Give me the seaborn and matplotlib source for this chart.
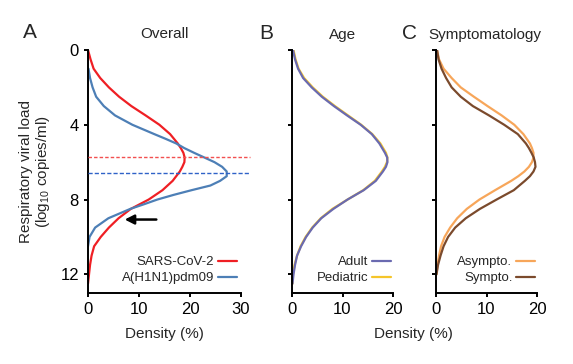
import numpy as np
import pandas as pd
import matplotlib
matplotlib.use("Agg")
import matplotlib.pyplot as plt
import seaborn as sns

# ---------------- data ----------------
sars_load = [0.0, 0.5, 1.0, 1.5, 2.0, 2.5, 3.0, 3.5, 4.0, 4.5, 5.0, 5.25, 5.5, 5.75, 6.0,
             6.25, 6.5, 7.0, 7.5, 8.0, 8.5, 9.0, 9.5, 10.0, 10.5, 11.0, 11.5, 12.0, 12.5]
sars_density = [0.0, 0.5, 1.1, 2.4, 4.1, 6.1, 8.5, 11.3, 14.0, 16.1, 17.6, 18.2, 18.7, 18.95, 18.9,
                18.5, 18.0, 16.6, 14.6, 11.9, 8.4, 6.0, 4.1, 2.5, 1.2, 0.7, 0.4, 0.2, 0.0]

h1n1_load = [1.0, 1.5, 2.0, 2.5, 3.0, 3.5, 4.0, 4.5, 4.75, 5.0, 5.25, 5.5, 5.75, 6.0,
             6.25, 6.5, 6.75, 7.0, 7.25, 7.5, 7.75, 8.0, 8.25, 8.5, 9.0, 9.5, 10.0, 10.5]
h1n1_density = [0.1, 0.4, 0.9, 1.6, 3.1, 5.3, 8.7, 13.0, 15.2, 17.3, 18.9, 20.8, 22.8, 24.8,
                26.3, 27.2, 27.2, 25.9, 24.0, 20.3, 16.8, 13.6, 11.0, 8.3, 4.0, 1.4, 0.3, 0.0]

age_load = [0.0, 0.5, 1.0, 1.5, 2.0, 2.5, 3.0, 3.5, 4.0, 4.5, 5.0, 5.5, 5.75, 6.0,
            6.25, 6.5, 7.0, 7.5, 8.0, 8.5, 9.0, 9.5, 10.0, 10.5, 11.0, 11.5, 12.0, 12.5]
adult_density = [0.2, 0.6, 1.2, 2.2, 3.9, 5.9, 8.3, 10.9, 13.6, 15.8, 17.3, 18.4, 18.85, 18.9,
                 18.6, 18.0, 16.6, 14.2, 11.0, 8.2, 5.8, 4.1, 2.8, 1.8, 1.0, 0.6, 0.3, 0.1]
pediatric_density = [0.3, 0.7, 1.3, 2.4, 4.1, 6.1, 8.5, 11.1, 13.7, 15.9, 17.5, 18.6, 18.9, 18.8,
                     18.4, 17.8, 16.4, 14.1, 11.0, 8.0, 5.7, 4.0, 2.7, 1.7, 1.0, 0.5, 0.2, 0.1]

symp_load = [0.0, 0.5, 1.0, 1.5, 2.0, 2.5, 3.0, 3.5, 4.0, 4.5, 5.0, 5.25, 5.5, 5.75, 6.0,
             6.25, 6.5, 6.75, 7.0, 7.5, 8.0, 8.5, 9.0, 9.5, 10.0, 10.5, 11.0, 11.5, 12.0]
asympto_density = [0.2, 0.6, 1.5, 3.1, 4.9, 7.5, 10.2, 13.0, 15.5, 17.3, 18.6, 19.0, 19.3, 19.3, 19.0,
                   18.4, 17.5, 16.3, 14.9, 11.7, 8.6, 6.1, 4.2, 2.8, 1.7, 1.0, 0.6, 0.3, 0.1]
sympto_density = [0.2, 0.5, 1.1, 2.0, 3.1, 4.9, 7.3, 10.5, 13.5, 16.2, 17.8, 18.4, 18.9, 19.35, 19.6,
                  19.7, 19.3, 18.6, 17.6, 15.4, 12.0, 8.7, 5.9, 3.8, 2.4, 1.5, 0.9, 0.4, 0.1]

# reference lines and arrow (panel A)
sars_ref_load = 5.75
h1n1_ref_load = 6.6
arrow_load = 9.07
arrow_from, arrow_to = 13.4, 7.2

panel_titles = ["Overall", "Age", "Symptomatology"]
panel_letters = ["A", "B", "C"]

# ---------------- style ----------------
sns.set_style("ticks")
plt.rcParams["font.family"] = ["Liberation Sans", "DejaVu Sans"]
plt.rcParams["mathtext.fontset"] = "custom"
plt.rcParams["mathtext.rm"] = "Liberation Sans"
plt.rcParams["mathtext.it"] = "Liberation Sans:italic"
plt.rcParams["axes.linewidth"] = 1.4
plt.rcParams["xtick.major.width"] = 1.4
plt.rcParams["ytick.major.width"] = 1.4
plt.rcParams["xtick.major.size"] = 3
plt.rcParams["ytick.major.size"] = 3
plt.rcParams["xtick.labelsize"] = 12
plt.rcParams["ytick.labelsize"] = 12
plt.rcParams["xtick.color"] = "black"
plt.rcParams["ytick.color"] = "black"
plt.rcParams["axes.edgecolor"] = "black"

C_RED = "#ef1f24"
C_BLUE = "#4d7fb6"
C_ADULT = "#6a6ab0"
C_PED = "#f5c52a"
C_ASY = "#f7a65a"
C_SYM = "#7b4a2c"

fig = plt.figure(figsize=(5.73, 3.64), dpi=100)
W, H = 573.0, 364.0
bot = 1 - 293 / H
hgt = (293 - 50) / H
axA = fig.add_axes([88 / W, bot, 153 / W, hgt])
axB = fig.add_axes([292 / W, bot, 101 / W, hgt])
axC = fig.add_axes([436 / W, bot, 101 / W, hgt])

lw = 1.6


def curve(ax, loads, dens, color, label):
    df = pd.DataFrame({"load": loads, "density": dens})
    sns.lineplot(data=df, x="density", y="load", orient="y", estimator=None,
                 sort=True, color=color, lw=lw, ax=ax, label=label)


# Panel A
curve(axA, sars_load, sars_density, C_RED, "SARS-CoV-2")
curve(axA, h1n1_load, h1n1_density, C_BLUE, "A(H1N1)pdm09")
axA.axhline(sars_ref_load, xmin=0, xmax=1.06, color="#f25050", lw=1.0,
            ls=(0, (2.5, 1.5)), clip_on=False, zorder=3)
axA.axhline(h1n1_ref_load, xmin=0, xmax=1.06, color="#2f62c8", lw=1.0,
            ls=(0, (3, 1.5)), clip_on=False, zorder=3)
axA.annotate("", xy=(arrow_to, arrow_load), xytext=(arrow_from, arrow_load),
             arrowprops=dict(arrowstyle="-|>,head_length=0.55,head_width=0.28",
                             color="black", lw=1.8, shrinkA=0, shrinkB=0))

# Panel B (Adult on top)
curve(axB, age_load, pediatric_density, C_PED, "Pediatric")
curve(axB, age_load, adult_density, C_ADULT, "Adult")

# Panel C
curve(axC, symp_load, asympto_density, C_ASY, "Asympto.")
curve(axC, symp_load, sympto_density, C_SYM, "Sympto.")

for ax, xmax in [(axA, 30), (axB, 20), (axC, 20)]:
    ax.set_ylim(13, 0)
    ax.set_xlim(0, xmax)
    ax.set_xticks(list(range(0, xmax + 1, 10)))
    ax.set_yticks([0, 4, 8, 12])
    ax.set_xlabel("")
    ax.set_ylabel("")
    sns.despine(ax=ax)
    ax.tick_params(axis="both", pad=3.5)

axB.set_yticklabels([])
axC.set_yticklabels([])

axA.set_ylabel("Respiratory viral load\n(log$_{10}$ copies/ml)", fontsize=11,
               linespacing=1.05)
axA.yaxis.set_label_coords(-0.235, 0.5)

legkw = dict(loc="lower right", frameon=False, fontsize=9.5, markerfirst=False,
             handlelength=1.45, handletextpad=0.3, labelspacing=0.3,
             borderaxespad=0, borderpad=0)
h, l = axA.get_legend_handles_labels()
axA.legend(h, l, bbox_to_anchor=(0.975, 0.035), **legkw)
h, l = axB.get_legend_handles_labels()
axB.legend(h[::-1], l[::-1], bbox_to_anchor=(0.985, 0.035), **legkw)
h, l = axC.get_legend_handles_labels()
axC.legend(h, l, bbox_to_anchor=(0.985, 0.035), **legkw)

# titles and letters
fig.text(30 / W, 1 - 38 / H, panel_letters[0], fontsize=15, ha="center", va="baseline")
fig.text(266 / W, 1 - 39 / H, panel_letters[1], fontsize=15, ha="center", va="baseline")
fig.text(409.5 / W, 1 - 39 / H, panel_letters[2], fontsize=15, ha="center", va="baseline")
fig.text(164.5 / W, 1 - 38.5 / H, panel_titles[0], fontsize=11, ha="center", va="baseline")
fig.text(342.5 / W, 1 - 38.5 / H, panel_titles[1], fontsize=11, ha="center", va="baseline")
fig.text(485 / W, 1 - 38.5 / H, panel_titles[2], fontsize=11, ha="center", va="baseline")

fig.text(164.5 / W, 1 - 338 / H, "Density (%)", fontsize=11, ha="center", va="baseline")
fig.text(413 / W, 1 - 338 / H, "Density (%)", fontsize=11, ha="center", va="baseline")

fig.savefig("out.png", dpi=100)
